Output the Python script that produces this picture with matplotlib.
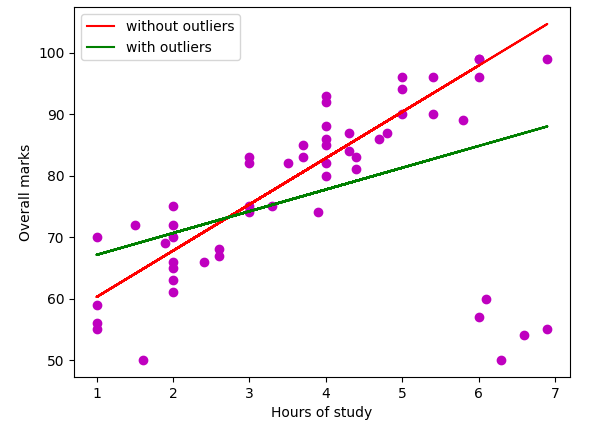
import matplotlib.pyplot as plt
import numpy as np

# hours of study vs overall marks (without outliers), as listed in the data
hours = [2, 4, 5, 1, 3, 4.3, 2.6, 6, 1.5, 4, 3.7, 2, 5.4, 1, 4.4, 3, 2,
         5, 4.8, 1.9, 4, 2.4, 6.9, 3.3, 2, 4, 1.6, 5, 3.5, 2, 4.7, 1,
         5.8, 4, 3, 2, 4.3, 6, 2.6, 3.9, 4, 1, 5.4, 3.7, 2, 4.4, 3,
         4, 6]
marks = [75, 93, 96, 70, 83, 87, 68, 99, 72, 86, 85, 66, 96, 59, 83, 74, 72,
         90, 87, 69, 92, 66, 99, 75, 65, 88, 50, 94, 82, 63, 86, 56,
         89, 85, 82, 70, 84, 96, 67, 74, 82, 55, 90, 83, 61, 81, 75,
         80, 99]

# outliers
out_hours = [6, 6.3, 6.9, 6.1, 6.6]
out_marks = [57, 50, 55, 60, 54]

x = np.array(hours)
y = np.array(marks)
x_all = np.array(hours + out_hours)
y_all = np.array(marks + out_marks)

m1, c1 = np.polyfit(x, y, 1)
m2, c2 = np.polyfit(x_all, y_all, 1)

fig = plt.figure(figsize=(6.03, 4.22), dpi=100)
plt.subplots_adjust(left=0.123, right=0.945, top=0.983, bottom=0.107)

plt.scatter(x_all, y_all, color="m")
plt.plot(x, m1 * x + c1, color="red", label="without outliers")
plt.plot(x_all, m2 * x_all + c2, color="green", label="with outliers")
plt.xlabel("Hours of study")
plt.ylabel("Overall marks")
plt.legend()
plt.savefig("out.png")
